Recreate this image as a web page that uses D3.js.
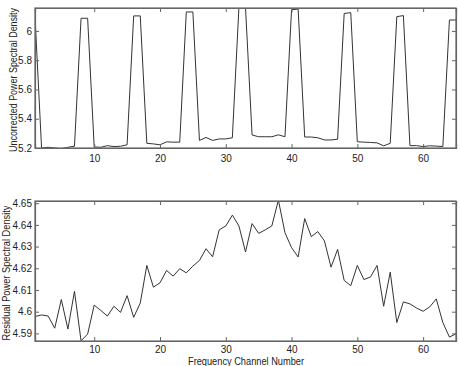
<!DOCTYPE html>
<html>
<head>
<meta charset="utf-8">
<script src="https://cdn.jsdelivr.net/npm/d3@7"></script>
<style>
  body { margin: 0; background: #fff; }
  svg { display: block; font-family: "Liberation Sans", Arial, sans-serif; }
</style>
</head>
<body>
<svg id="chart" width="460" height="366"></svg>
<script>
// channel numbers 1..65
const channels = d3.range(1, 66);

// uncorrected power spectral density (top panel)
const uncorrected = [
  6.10, 5.20, 5.205, 5.20, 5.195, 5.205, 5.212, 6.087, 6.087, 5.207,
  5.205, 5.216, 5.21, 5.212, 5.222, 6.103, 6.103, 5.232, 5.228, 5.222,
  5.242, 5.24, 5.24, 6.13, 6.13, 5.252, 5.272, 5.252, 5.262, 5.262,
  5.27, 6.16, 6.16, 5.289, 5.277, 5.277, 5.277, 5.29, 5.277, 6.145,
  6.15, 5.275, 5.275, 5.27, 5.255, 5.255, 5.26, 6.12, 6.125, 5.243,
  5.24, 5.238, 5.235, 5.215, 5.232, 6.098, 6.105, 5.216, 5.216, 5.21,
  5.215, 5.213, 5.21, 6.075, 6.075
];

// residual power spectral density (bottom panel)
const residual = [
  4.5978, 4.5985, 4.598, 4.5924, 4.6056, 4.592, 4.6094, 4.5866, 4.5897, 4.603,
  4.6006, 4.598, 4.6025, 4.5997, 4.6074, 4.5974, 4.604, 4.6213, 4.6113, 4.6133,
  4.619, 4.6164, 4.6198, 4.6179, 4.621, 4.6236, 4.629, 4.6253, 4.6377, 4.6395,
  4.6445, 4.6395, 4.6275, 4.6406, 4.6361, 4.6377, 4.6395, 4.6514, 4.6364, 4.6295,
  4.6252, 4.6429, 4.6346, 4.6369, 4.6326, 4.6205, 4.6287, 4.6144, 4.612, 4.6213,
  4.6148, 4.616, 4.6213, 4.6025, 4.6182, 4.595, 4.6045, 4.6036, 4.6017, 4.6002,
  4.6022, 4.6059, 4.595, 4.5883, 4.5898
];

const xTicks = [10, 20, 30, 40, 50, 60];
const topTicks = [5.2, 5.4, 5.6, 5.8, 6];
const bottomTicks = [4.59, 4.6, 4.61, 4.62, 4.63, 4.64, 4.65];

const svg = d3.select('#chart');
const left = 35, right = 456;
const axisColor = '#666';
const textColor = '#222';
const fontSize = '10px';

const x = d3.scaleLinear().domain([1, 65]).range([left, right]);

function drawPanel(top, bottom, yDomain, values, yTicks, yLabel, labelX, labelLen, xPad) {
  const y = d3.scaleLinear().domain(yDomain).range([bottom, top]);
  const g = svg.append('g');
  const tickLen = 4;

  // clip to the axes box
  const clipId = 'clip' + top;
  svg.append('defs').append('clipPath').attr('id', clipId)
    .append('rect')
      .attr('x', left).attr('y', top)
      .attr('width', right - left).attr('height', bottom - top);

  // data line
  const line = d3.line()
    .x((d, i) => x(channels[i]))
    .y(d => y(d));
  g.append('path')
    .datum(values)
    .attr('clip-path', 'url(#' + clipId + ')')
    .attr('fill', 'none')
    .attr('stroke', '#333')
    .attr('stroke-width', 1)
    .attr('d', line);

  // bottom axis, ticks point inward
  const xb = g.append('g').attr('transform', 'translate(0,' + bottom + ')')
    .call(d3.axisBottom(x).tickValues(xTicks).tickSize(-tickLen).tickPadding(xPad).tickFormat(d3.format('d')));
  // top axis, no labels
  const xt = g.append('g').attr('transform', 'translate(0,' + top + ')')
    .call(d3.axisTop(x).tickValues(xTicks).tickSize(-tickLen).tickFormat(''));
  // left axis
  const yl = g.append('g').attr('transform', 'translate(' + left + ',0)')
    .call(d3.axisLeft(y).tickValues(yTicks).tickSize(-tickLen).tickPadding(3).tickFormat(d => String(+d.toFixed(2))));
  // right axis
  const yr = g.append('g').attr('transform', 'translate(' + right + ',0)')
    .call(d3.axisRight(y).tickValues(yTicks).tickSize(-tickLen).tickFormat(''));

  [xb, xt, yl, yr].forEach(a => {
    a.select('.domain').attr('stroke', axisColor).attr('stroke-width', 1.2);
    a.selectAll('.tick line').attr('stroke', axisColor);
    a.selectAll('.tick text').attr('fill', textColor).style('font-size', fontSize);
  });
  // the box outline
  g.append('rect')
    .attr('x', left).attr('y', top)
    .attr('width', right - left).attr('height', bottom - top)
    .attr('fill', 'none').attr('stroke', axisColor).attr('stroke-width', 1.2);

  // y label
  g.append('text')
    .attr('transform', 'translate(' + labelX + ',' + ((top + bottom) / 2 + 2) + ') rotate(-90)')
    .attr('text-anchor', 'middle')
    .attr('dy', '0.35em')
    .attr('fill', textColor)
    .attr('textLength', labelLen)
    .attr('lengthAdjust', 'spacingAndGlyphs')
    .style('font-size', fontSize)
    .text(yLabel);
}

drawPanel(8, 148, [5.2, 6.157], uncorrected, topTicks, 'Uncorrected Power Spectral Density', 13.5, 144, 7);
drawPanel(201, 341, [4.5865, 4.651], residual, bottomTicks, 'Residual Power Spectral Density', 6.5, 135, 5);

svg.append('text')
  .attr('x', 246)
  .attr('y', 361)
  .attr('dy', '0.35em')
  .attr('text-anchor', 'middle')
  .attr('fill', textColor)
  .attr('textLength', 116)
  .attr('lengthAdjust', 'spacingAndGlyphs')
  .style('font-size', fontSize)
  .text('Frequency Channel Number');
</script>
</body>
</html>
